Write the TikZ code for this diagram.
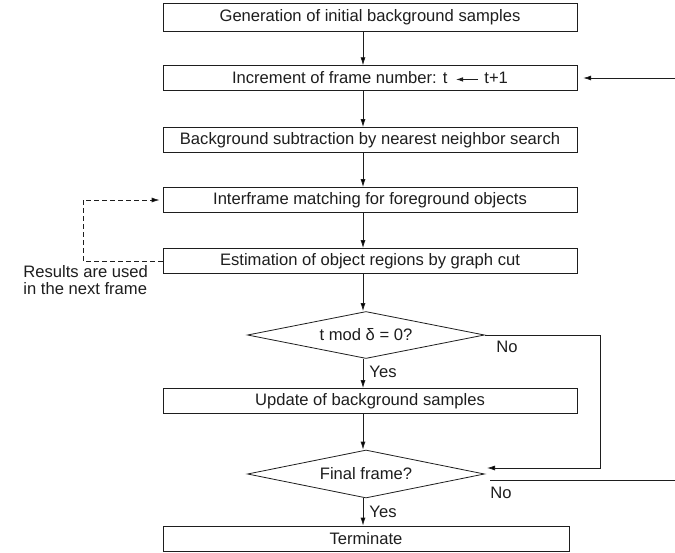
\documentclass[tikz,border=0pt]{standalone}
\usepackage{fontspec}
\setmainfont{Liberation Sans}
\usetikzlibrary{shapes.geometric,arrows.meta,calc}
\definecolor{ink}{RGB}{30,30,30}
\begin{document}
\begin{tikzpicture}[x=1pt,y=-1pt, line width=0.8pt, draw=ink,
  txt/.style={font=\fontsize{16.6}{17.5}\selectfont, text=ink},
  box/.style={draw=ink, rectangle, minimum width=414pt, minimum height=25pt, inner sep=0pt, txt},
  dia/.style={draw=ink, diamond, aspect=5.04, minimum width=237pt, minimum height=47pt, inner sep=0pt, txt},
  arr/.style={-{Latex[length=8pt,width=5pt]}},
  lbl/.style={inner sep=0pt, txt},
  dsh/.style={dash pattern=on 5pt off 3pt}]
\useasboundingbox (0,0) rectangle (675,552);
\fill[white] (0,0) rectangle (675,552);
\coordinate (xc) at (363,0);
\node[box, minimum height=28pt] (b1) at (370,17.5) {Generation of initial background samples};
\node[box] (b2) at (370,78) {Increment of frame number: t\hspace{8pt}\tikz[baseline=-4.5pt,x=1pt,y=1pt]\draw[-{Latex[length=7pt,width=4.5pt]},line width=0.8pt,draw=ink] (22,0) -- (0,0);\hspace{6pt}t+1};
\node[box] (b3) at (370,140) {Background subtraction by nearest neighbor search};
\node[box] (b4) at (370,200) {Interframe matching for foreground objects};
\node[box] (b5) at (370,261) {Estimation of object regions by graph cut};
\node[dia] (d1) at (366,335) {t mod δ = 0?};
\node[box] (b6) at (370,401) {Update of background samples};
\node[dia, minimum height=48pt] (d2) at (366,474) {Final frame?};
\node[box, minimum width=406pt] (b7) at (366,538.5) {Terminate};
% main vertical flow
\draw[arr] (b1.south -| xc) -- (b2.north -| xc);
\draw[arr] (b2.south -| xc) -- (b3.north -| xc);
\draw[arr] (b3.south -| xc) -- (b4.north -| xc);
\draw[arr] (b4.south -| xc) -- (b5.north -| xc);
\draw[arr] (b5.south -| xc) -- (d1.north -| xc);
\draw[arr] (d1.south -| xc) -- (b6.north -| xc);
\draw[arr] (b6.south -| xc) -- (d2.north -| xc);
\draw[arr] (d2.south -| xc) -- (b7.north -| xc);
% labels
\node[lbl] (y1) at (383,372) {Yes};
\node[lbl] (y2) at (383,512) {Yes};
\node[lbl] (no1) at (507,347) {No};
\node[lbl] (no2) at (501,493) {No};
% right loop: d1 No -> d2
\coordinate (c1) at (600,335);
\coordinate (c2) at (600,468);
\coordinate (c3) at (487,468);
\draw[arr] (d1.east) -- (c1) -- (c2) -- (c3);
% d2 No -> back to b2
\coordinate (n1) at (490,480);
\coordinate (n2) at (675,480);
\draw (n1) -- (n2);
\coordinate (n3) at (675,78);
\draw[arr, shorten >=6pt] (n3) -- (b2.east);
% dashed feedback
\coordinate (l1) at (83,261);
\draw[arr, dsh] (b5.west) -- (l1) |- ($(b4.west)+(-3,0)$);
\node[lbl, align=left, anchor=north west] (res) at (23,265) {Results are used\\in the next frame};
\end{tikzpicture}
\end{document}
